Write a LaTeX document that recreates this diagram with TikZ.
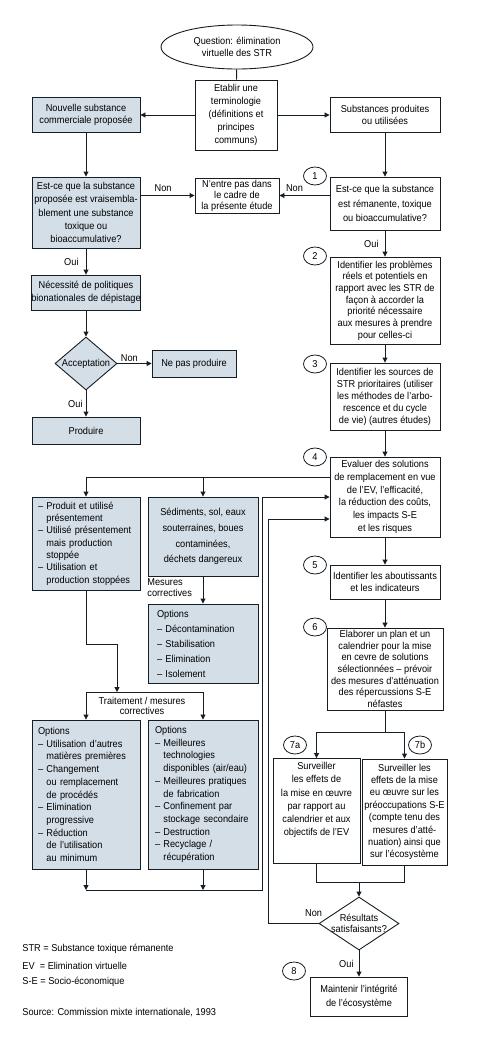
\documentclass[tikz,border=0pt]{standalone}
\usepackage{fontspec}
\setmainfont[FakeStretch=0.92]{Liberation Sans}
\usetikzlibrary{shapes.geometric,arrows.meta}
\definecolor{boxfill}{RGB}{212,222,230}
\definecolor{inkcol}{RGB}{20,30,36}
\newcommand{\skipln}[1]{\fontsize{10}{#1}\selectfont}
\tikzset{every path/.style={line width=0.9pt}}
\tikzset{
  stepbox/.style={draw=inkcol, line width=0.9pt, inner sep=0pt, align=center, font=\skipln{12.5}},
  shadebox/.style={stepbox, fill=boxfill},
  numtag/.style={ellipse, draw=inkcol, line width=0.8pt, inner sep=0pt, minimum width=23, minimum height=18, font=\skipln{12}},
  lbl/.style={inner sep=0pt, font=\skipln{12}},
  wire/.style={draw=inkcol},
  flow/.style={draw=inkcol, -{Triangle[length=5pt,width=5pt]}}
}

\begin{document}
\begin{tikzpicture}[x=1pt,y=-1pt]
  \useasboundingbox (0,0) rectangle (485,1042);

  \node[ellipse, stepbox, minimum width=152, minimum height=44] (quest) at (237,47) {Question: élimination\\virtuelle des STR};
  \node[stepbox, minimum width=82, minimum height=70, font=\skipln{13}] (term) at (236,115) {Etablir une\\terminologie\\(définitions et\\principes\\communs)};
  \node[shadebox, minimum width=108, minimum height=35] (newsub) at (86,115) {Nouvelle substance\\commerciale proposée};
  \node[stepbox, minimum width=110, minimum height=35] (usedsub) at (385,115) {Substances produites\\ou utilisées};

  \node[shadebox, minimum width=108, minimum height=71, font=\skipln{13.3}] (askL) at (86,212.5) {Est-ce que la substance\\proposée est vraisembla-\\blement une substance\\toxique ou\\bioaccumulative?};
  \node[stepbox, minimum width=84, minimum height=35, font=\skipln{11}] (outside) at (237,195.5) {N'entre pas dans\\le cadre de\\la présente étude};
  \node[stepbox, minimum width=110, minimum height=53, font=\skipln{14.5}] (askR) at (385,203.5) {Est-ce que la substance\\est rémanente, toxique\\ou bioaccumulative?};
  \node[numtag] (n1) at (315,176) {1};

  \node[stepbox, minimum width=110, minimum height=87, font=\skipln{11.7}] (s2) at (385,300.5) {Identifier les problèmes\\réels et potentiels en\\rapport avec les STR de\\façon à accorder la\\priorité nécessaire\\aux mesures à prendre\\pour celles-ci};
  \node[numtag] (n2) at (315,256) {2};
  \node[shadebox, minimum width=108, minimum height=35] (policy) at (86,292.5) {Nécessité de politiques\\bionationales de dépistage};

  \node[diamond, shadebox, minimum width=62, minimum height=53] (accept) at (86,363.5) {\makebox[0pt]{Acceptation}};
  \node[shadebox, minimum width=84, minimum height=27] (nomake) at (194,363.5) {Ne pas produire};
  \node[shadebox, minimum width=108, minimum height=27] (make) at (86,430.5) {Produire};

  \node[stepbox, minimum width=110, minimum height=67, font=\skipln{12}] (s3) at (385,396.5) {Identifier les sources de\\STR prioritaires (utiliser\\les méthodes de l'arbo-\\rescence et du cycle\\de vie) (autres études)};
  \node[numtag] (n3) at (315,364) {3};
  \node[stepbox, minimum width=110, minimum height=80, font=\skipln{12.7}] (s4) at (385,497) {Evaluer des solutions\\de remplacement en vue\\de l'EV, l'efficacité,\\la réduction des coûts,\\les impacts S-E\\et les risques};
  \node[numtag] (n4) at (315,457) {4};

  \node[shadebox, minimum width=108, minimum height=93, text width=96, align=left, font=\skipln{12.3}] (status) at (86,543.5) {– Produit et utilisé\\\phantom{– }présentement\\– Utilisé présentement\\\phantom{– }mais production\\\phantom{– }stoppée\\– Utilisation et\\\phantom{– }production stoppées};
  \node[shadebox, minimum width=110, minimum height=79, font=\skipln{15.7}] (media) at (203,536.5) {Sédiments, sol, eaux\\souterraines, boues\\contaminées,\\déchets dangereux};
  \node[lbl, anchor=north west, align=left, font=\skipln{11.5}] (remlbl) at (147,578) {Mesures\\correctives};
  \node[shadebox, minimum width=110, minimum height=79, text width=92, align=left, font=\skipln{15}] (remopt) at (203,643.5) {Options\\– Décontamination\\– Stabilisation\\– Elimination\\– Isolement};

  \node[lbl, align=center, font=\skipln{10.5}] (trtlbl) at (142,706) {Traitement / mesures\\correctives};
  \node[shadebox, minimum width=108, minimum height=149, text width=96, align=left, font=\skipln{12.7}] (srcopt) at (86,794.5) {Options\\– Utilisation d'autres\\\phantom{– }matières premières\\– Changement\\\phantom{– }ou remplacement\\\phantom{– }de procédés\\– Elimination\\\phantom{– }progressive\\– Réduction\\\phantom{– }de l'utilisation\\\phantom{– }au minimum};
  \node[shadebox, minimum width=110, minimum height=149, text width=96, align=left, font=\skipln{12.7}] (techopt) at (203,794.5) {Options\\– Meilleures\\\phantom{– }technologies\\\phantom{– }disponibles (air/eau)\\– Meilleures pratiques\\\phantom{– }de fabrication\\– Confinement par\\\phantom{– }stockage secondaire\\– Destruction\\– Recyclage /\\\phantom{– }récupération};

  \node[stepbox, minimum width=110, minimum height=34] (s5) at (385,582) {Identifier les aboutissants\\et les indicateurs};
  \node[numtag] (n5) at (315,565) {5};
  \node[stepbox, minimum width=116, minimum height=82, font=\skipln{11.7}] (s6) at (385,669) {Elaborer un plan et un\\calendrier pour la mise\\en cevre de solutions\\sélectionnées – prévoir\\des mesures d'atténuation\\des répercussions S-E\\néfastes};
  \node[numtag] (n6) at (315,627) {6};

  \node[stepbox, minimum width=87, minimum height=105, font=\skipln{13.2}, text depth=24pt] (s7a) at (316.5,811) {Surveiller\\les effets de\\la mise en œuvre\\par rapport au\\calendrier et aux\\objectifs de l'EV};
  \node[numtag] (n7a) at (295,745) {7a};
  \node[stepbox, minimum width=85, minimum height=106, font=\skipln{12.4}] (s7b) at (404.5,812) {Surveiller les\\effets de la mise\\eu œuvre sur les\\préoccupations S-E\\(compte tenu des\\mesures d'atté-\\nuation) ainsi que\\sur l'écosystème};
  \node[numtag] (n7b) at (420,745) {7b};

  \node[diamond, stepbox, minimum width=80, minimum height=53, font=\skipln{11}] (ok) at (359,923.5) {\makebox[0pt]{Résultats}\\\makebox[0pt]{satisfaisants?}};
  \node[stepbox, minimum width=97, minimum height=39, font=\skipln{14}] (s8) at (359,996.5) {Maintenir l'intégrité\\de l'écosystème};
  \node[numtag] (n8) at (294,971) {8};

  \node[lbl, anchor=west] (leg1) at (22,949) {STR = Substance toxique rémanente};
  \node[lbl, anchor=west] (leg2) at (22,966) {EV\ \ = Elimination virtuelle};
  \node[lbl, anchor=west] (leg3) at (22,982) {S-E = Socio-économique};
  \node[lbl, anchor=west] (source) at (22,1013) {Source: Commission mixte internationale, 1993};

  \draw[wire] (quest) -- (term);
  \draw[flow] (term) -- (newsub);
  \draw[flow] (term) -- (usedsub);
  \draw[flow] (newsub) -- (askL);
  \draw[flow] (usedsub) -- (askR);
  \draw[flow] (askL.east |- outside) -- node[lbl, above=3pt, pos=0.42] {Non} (outside);
  \draw[flow] (askR.west |- outside) -- node[lbl, above=3pt, pos=0.7] {Non} (outside);
  \draw[flow] (askR) -- node[lbl, left=6pt] {Oui} (s2);
  \draw[flow] (askL) -- node[lbl, left=7pt] {Oui} (policy);
  \draw[flow] (policy) -- (accept);
  \draw[flow] (accept) -- node[lbl, above=1pt, pos=0.35] {Non} (nomake);
  \draw[flow] (accept) -- node[lbl, left=3pt] {Oui} (make);
  \draw[flow] (s2) -- (s3);
  \draw[flow] (s3) -- (s4);
  \draw[flow] ([yshift=20pt]s4.west) -| (status);
  \draw[flow] ([yshift=20pt]s4.west) -| (media);
  \draw[flow] (media) -- (remopt);
  \coordinate (mergeT) at (117,692);
  \draw[flow] (status.south) -- ++(0,54) -| (mergeT);
  \draw[flow] (mergeT) -| (srcopt);
  \draw[flow] (mergeT) -| (techopt);
  \coordinate (backL) at (262,890);
  \draw[flow] (srcopt) -- (srcopt |- backL);
  \draw[flow] (techopt) -- (techopt |- backL);
  \draw[flow] (srcopt |- backL) -- (backL) |- (s4.west);
  \draw[flow] (s4) -- (s5);
  \draw[flow] (s5) -- (s6);
  \draw[flow] (s6.south) -- ++(0,22) -| (s7a);
  \draw[flow] (s6.south) -- ++(0,22) -| (s7b);
  \coordinate (join7) at (359,882);
  \draw[wire] (s7a) |- (join7) -| (s7b);
  \draw[flow] (join7) -- (ok);
  \draw[flow] (ok) -- node[lbl, left=5pt] {Oui} (s8);
  \draw[flow] (ok.west) -- node[lbl, above=6pt, pos=0.1] {Non} ++(-50,0) |- ([yshift=-22pt]s4.west);
\end{tikzpicture}
\end{document}
